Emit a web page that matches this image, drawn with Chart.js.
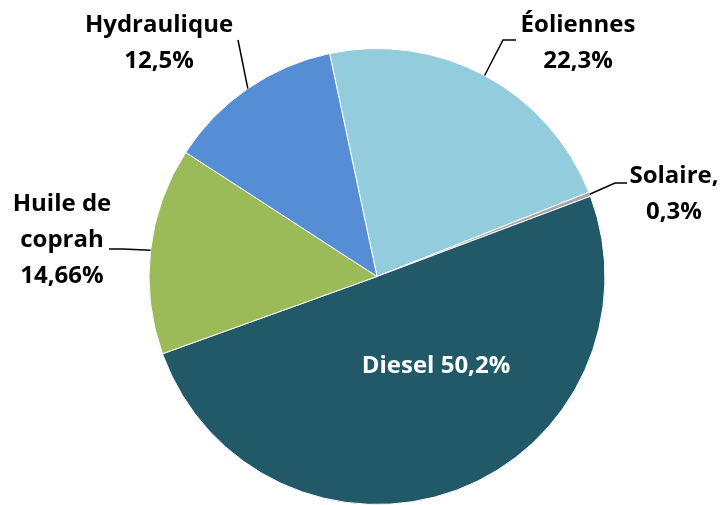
<!DOCTYPE html>
<html>
<head>
    <title>Production d'électricité</title>
    <script src="https://cdn.jsdelivr.net/npm/chart.js"></script>
    <style>
        html, body { margin: 0; padding: 0; background: #fff; }
        .chart-container { position: relative; width: 723px; height: 505px; }
    </style>
</head>
<body>
    <div class="chart-container">
        <canvas id="pieChart"></canvas>
    </div>

    <script>
        // Data, clockwise from the top
        const sources = ['Éoliennes', 'Solaire', 'Diesel', 'Huile de coprah', 'Hydraulique'];
        const shares = [22.3, 0.3, 50.2, 14.66, 12.5];
        const shareLabels = ['22,3%', '0,3%', '50,2%', '14,66%', '12,5%'];
        const colors = ['#93CDDD', '#A6A6A6', '#215968', '#9BBB59', '#558ED5'];

        // Label text placement (lines of text + center x / first line y) and leader elbows
        const labelSpecs = [
            { lines: ['Éoliennes', '22,3%'], x: 578, y: 25, elbow: [[503, 40], [516, 40]] },
            { lines: ['Solaire,', '0,3%'], x: 674, y: 176, elbow: [[615, 183], [627, 183]] },
            null,
            { lines: ['Huile de', 'coprah', '14,66%'], x: 62, y: 204, elbow: [[123, 249], [109, 249]] },
            { lines: ['Hydraulique', '12,5%'], x: 159, y: 25, elbow: [[238, 40]] }
        ];
        const FONT = 'bold 24px "Open Sans", Lato, sans-serif';
        const LINE_H = 36;

        const pieLabels = {
            id: 'pieLabels',
            afterDatasetsDraw(chart) {
                const ctx = chart.ctx;
                const meta = chart.getDatasetMeta(0);
                ctx.save();
                ctx.font = FONT;
                ctx.textAlign = 'center';
                ctx.textBaseline = 'middle';
                meta.data.forEach((arc, i) => {
                    const p = arc.getProps(['x', 'y', 'startAngle', 'endAngle', 'outerRadius'], true);
                    const mid = (p.startAngle + p.endAngle) / 2;
                    if (labelSpecs[i] === null) {
                        // Diesel: label inside the slice
                        ctx.fillStyle = '#ffffff';
                        ctx.fillText(sources[i] + ' ' + shareLabels[i], 436, 366);
                        return;
                    }
                    const spec = labelSpecs[i];
                    const ax = p.x + Math.cos(mid) * p.outerRadius;
                    const ay = p.y + Math.sin(mid) * p.outerRadius;
                    ctx.strokeStyle = '#000';
                    ctx.lineWidth = 1.5;
                    ctx.beginPath();
                    ctx.moveTo(ax, ay);
                    spec.elbow.forEach(pt => ctx.lineTo(pt[0], pt[1]));
                    ctx.stroke();
                    ctx.fillStyle = '#000';
                    spec.lines.forEach((t, k) => ctx.fillText(t, spec.x, spec.y + k * LINE_H));
                });
                ctx.restore();
            }
        };

        const pieCtx = document.getElementById('pieChart').getContext('2d');
        const pieChart = new Chart(pieCtx, {
            type: 'pie',
            data: {
                labels: sources,
                datasets: [{
                    data: shares,
                    backgroundColor: colors,
                    borderColor: '#ffffff',
                    borderWidth: 1
                }]
            },
            options: {
                responsive: true,
                maintainAspectRatio: false,
                animation: false,
                rotation: -12,
                layout: { padding: { left: 132, right: 101, top: 48, bottom: 0 } },
                plugins: {
                    legend: { display: false },
                    tooltip: { enabled: false }
                }
            },
            plugins: [pieLabels]
        });
    </script>
</body>
</html>
